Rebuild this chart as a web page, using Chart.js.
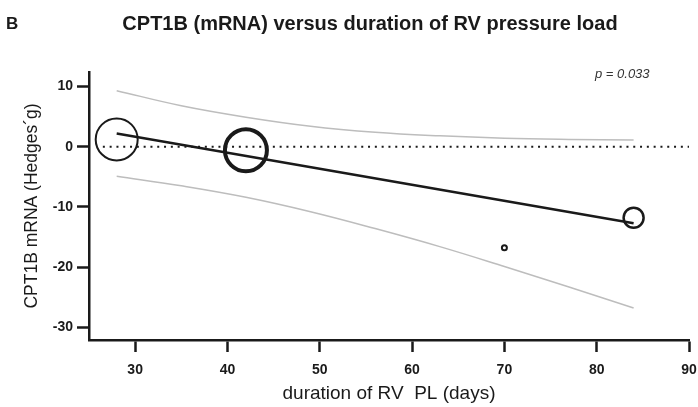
<!DOCTYPE html>
<html>
<head>
<meta charset="utf-8">
<script src="https://cdn.jsdelivr.net/npm/chart.js@4.4.1/dist/chart.umd.min.js"></script>
<style>
  html, body { margin: 0; padding: 0; background: #fff; }
  #wrap { width: 698px; height: 407px; position: relative; }
</style>
</head>
<body>
<div id="wrap"><canvas id="cptChart"></canvas></div>
<script>
// studies: duration of pressure load (days) vs effect size
const durationDays = [28, 42, 70, 84];
const hedgesG = [1.2, -0.6, -16.8, -11.8];
const studyWeight = [21, 21, 2.5, 10];

// meta-regression line
const fitDays = [28, 84];
const fitValues = [2.2, -12.7];

// 95% confidence band
const bandDays = [28, 35, 42, 49, 56, 63, 70, 77, 84];
const bandUpper = [9.3, 6.8, 4.9, 3.4, 2.4, 1.8, 1.4, 1.2, 1.1];
const bandLower = [-4.9, -6.5, -8.4, -10.8, -13.6, -16.6, -19.9, -23.3, -26.8];

// no-effect reference
const zeroDays = [26.5, 90];
const zeroValues = [0, 0];

const xTicks = [30, 40, 50, 60, 70, 80, 90];
const yTicks = [-30, -20, -10, 0, 10];

const toPoints = (xs, ys) => xs.map((x, i) => ({ x: x, y: ys[i] }));

const FONT = "'Liberation Sans', Arial, sans-serif";
const INK = '#1a1a1a';

// heading, panel letter and p value
const annotations = {
  id: 'annotations',
  afterDraw(chart) {
    const ctx = chart.ctx;
    ctx.save();
    ctx.fillStyle = INK;
    ctx.textBaseline = 'middle';
    ctx.font = 'bold 17px ' + FONT;
    ctx.textAlign = 'left';
    ctx.fillText('B', 6, 24);
    ctx.font = 'bold 20px ' + FONT;
    ctx.textAlign = 'center';
    ctx.fillText('CPT1B (mRNA) versus duration of RV pressure load', 370, 24);
    ctx.font = 'italic 13px ' + FONT;
    ctx.fillStyle = '#333';
    ctx.textAlign = 'left';
    ctx.fillText('p = 0.033', 595, 74);
    ctx.restore();
  }
};

const lineSet = (data, color, width, extra) => Object.assign({
  type: 'line',
  data: data,
  borderColor: color,
  borderWidth: width,
  pointRadius: 0,
  fill: false
}, extra || {});

new Chart(document.querySelector('#cptChart'), {
  type: 'bubble',
  data: {
    datasets: [
      lineSet(toPoints(zeroDays, zeroValues), INK, 2, { borderDash: [2, 4.8] }),
      lineSet(toPoints(bandDays, bandUpper), '#bdbdbd', 1.5, { tension: 0.4 }),
      lineSet(toPoints(bandDays, bandLower), '#bdbdbd', 1.5, { tension: 0.4 }),
      lineSet(toPoints(fitDays, fitValues), INK, 2.5),
      {
        type: 'bubble',
        data: durationDays.map((d, i) => ({ x: d, y: hedgesG[i], r: studyWeight[i] })),
        backgroundColor: 'rgba(0,0,0,0)',
        borderColor: INK,
        borderWidth: [2, 4, 2, 2.5]
      }
    ]
  },
  options: {
    responsive: true,
    maintainAspectRatio: false,
    animation: false,
    events: [],
    layout: { autoPadding: false, padding: { top: 72, right: 9, bottom: 0, left: 0 } },
    plugins: {
      legend: { display: false },
      tooltip: { enabled: false }
    },
    scales: {
      x: {
        type: 'linear',
        min: 25,
        max: 90,
        afterBuildTicks: (scale) => { scale.ticks = xTicks.map(v => ({ value: v })); },
        afterFit: (scale) => {
          scale.height = 67;
          scale.paddingLeft = 0;
          scale.paddingRight = 0;
        },
        border: { display: true, color: INK, width: 2.5 },
        grid: { drawOnChartArea: false, drawTicks: true, tickLength: 12, tickWidth: 2.5, tickColor: INK },
        ticks: { color: INK, padding: 10, font: { family: FONT, size: 14, weight: 'bold' }, maxRotation: 0 },
        title: {
          display: true,
          text: 'duration of RV  PL (days)',
          color: INK,
          font: { family: FONT, size: 19 },
          padding: { top: 0, bottom: 2 }
        }
      },
      y: {
        type: 'linear',
        min: -32.1,
        max: 12.4,
        afterBuildTicks: (scale) => { scale.ticks = yTicks.map(v => ({ value: v })); },
        afterFit: (scale) => { scale.width = 89; },
        border: { display: true, color: INK, width: 2.5 },
        grid: { drawOnChartArea: false, drawTicks: true, tickLength: 12, tickWidth: 2.5, tickColor: INK },
        ticks: { color: INK, padding: 4, font: { family: FONT, size: 14, weight: 'bold' } },
        title: {
          display: true,
          text: 'CPT1B mRNA (Hedges´g)',
          color: INK,
          font: { family: FONT, size: 17.5 },
          padding: { top: 22, bottom: 0 }
        }
      }
    }
  },
  plugins: [annotations]
});
</script>
</body>
</html>
